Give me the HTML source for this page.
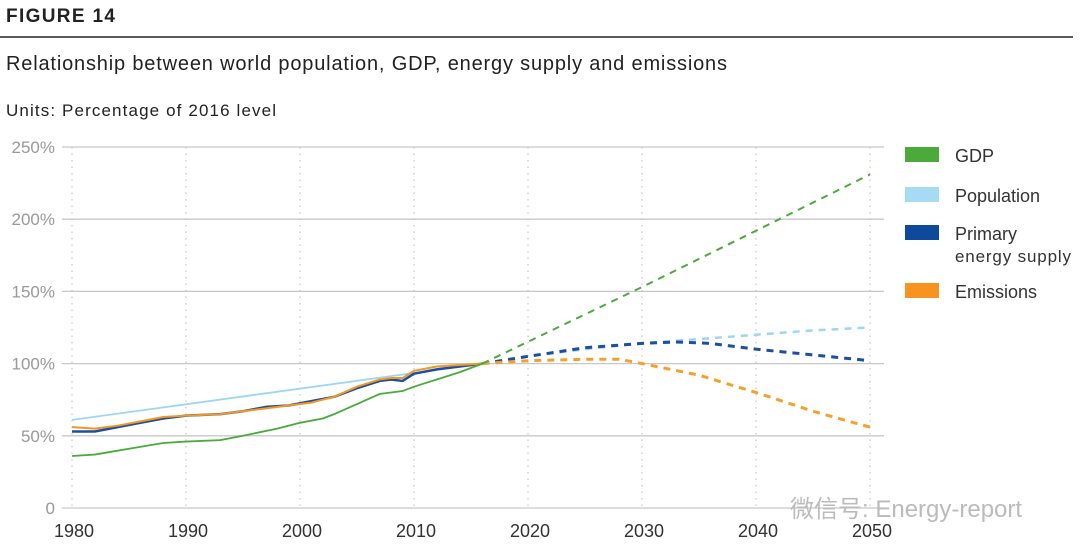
<!DOCTYPE html>
<html><head><meta charset="utf-8"><style>
body{margin:0;background:#fff;width:1080px;height:556px;overflow:hidden;font-family:"Liberation Sans","Noto Sans CJK SC",sans-serif}
</style></head><body>
<svg width="1080" height="556" style="position:absolute;left:0;top:0">
<text x="6" y="22" font-size="19" font-weight="bold" fill="#222" textLength="109">FIGURE 14</text>
<line x1="0" y1="37" x2="1073" y2="37" stroke="#222" stroke-width="1.5"/>
<text x="6" y="70" font-size="20" fill="#222" textLength="721">Relationship between world population, GDP, energy supply and emissions</text>
<text x="6" y="116" font-size="17" fill="#222" textLength="270">Units: Percentage of 2016 level</text>
<g id="grid"></g><g id="series"></g><g id="legend"></g>
<text x="790" y="517" font-size="24" fill="#bbb">微信号: Energy-report</text>
</svg>
<script>
const yTicks=[0,50,100,150,200,250];
const yTickLabels=["0","50%","100%","150%","200%","250%"];
const xTicks=[1980,1990,2000,2010,2020,2030,2040,2050];
const gdpYears=[1980,1982,1985,1988,1990,1993,1995,1998,2000,2002,2003,2005,2007,2008,2009,2010,2012,2014,2016];
const gdpVals=[36,37,41,45,46,47,50,55,59,62,65,72,79,80,81,84,89,94,100];
const gdpProjYears=[2016,2030,2040,2050];
const gdpProjVals=[100,153,192,231];
const popYears=[1980,2016];
const popVals=[61,100];
const popProjYears=[2016,2020,2025,2030,2035,2040,2045,2050];
const popProjVals=[100,105,110,114,117,120,123,125];
const enYears=[1980,1982,1984,1986,1988,1990,1993,1995,1997,1999,2001,2003,2005,2007,2008,2009,2010,2012,2014,2016];
const enVals=[53,53,56,59,62,64,65,67,70,71,74,77,83,88,89,88,93,96,98,100];
const enProjYears=[2016,2020,2025,2030,2033,2036,2040,2045,2050];
const enProjVals=[100,105,111,114,115,114,110,106,102];
const emYears=[1980,1982,1984,1986,1988,1990,1993,1995,1997,1999,2001,2003,2005,2007,2008,2009,2010,2012,2014,2016];
const emVals=[56,55,57,60,63,64,65,67,69,71,73,77,84,89,90,90,95,98,99,100];
const emProjYears=[2016,2020,2025,2028,2030,2035,2040,2045,2050];
const emProjVals=[100,102,103,103,100,92,80,67,56];
const NS="http://www.w3.org/2000/svg";
const X=y=>72+(y-1980)*11.4, Y=v=>508-v*1.444;
function mk(t,a,p){const e=document.createElementNS(NS,t);for(const k in a)e.setAttribute(k,a[k]);p.appendChild(e);return e;}
const grid=document.getElementById('grid');
yTicks.forEach((v,i)=>{
 const l=mk('line',{x1:62,x2:884,y1:Y(v),y2:Y(v),stroke:'#c8c8c8','stroke-width':1.3},grid);
 
 
 const t=mk('text',{x:55,y:Y(v)+6,'text-anchor':'end','font-size':17,fill:'#999'},grid);t.textContent=yTickLabels[i];
 
 
});
xTicks.forEach(v=>{
 const l=mk('line',{x1:X(v),x2:X(v),y1:Y(250),y2:Y(0),stroke:'#bbb','stroke-dasharray':'1.5 5'},grid);
 
 
 const t=mk('text',{x:X(v)+2,y:537,'text-anchor':'middle','font-size':18,fill:'#333'},grid);t.textContent=v;
 
 
});
const S=document.getElementById('series');
function line(xs,vs,col,dash,name,w){
 const p=mk('polyline',{points:xs.map((x,i)=>X(x)+','+Y(vs[i])).join(' '),fill:'none',stroke:col,'stroke-width':w||2,'stroke-linejoin':'round'},S);
 if(dash)p.setAttribute('stroke-dasharray','7 6');
 
 
}
line(popYears,popVals,'#9dd6f2',null,'population-line',1.8);
line(popProjYears,popProjVals,'#9dd6f2',1,'population-projection',2.5);
line(enYears,enVals,'#1a4fa3',null,'energy-line',2.5);
line(emYears,emVals,'#f5961e',null,'emissions-line',2);
line(gdpYears,gdpVals,'#4aaa3a',null,'gdp-line',1.8);
line(enProjYears,enProjVals,'#1a4fa3',1,'energy-projection',3);
line(emProjYears,emProjVals,'#f5a02a',1,'emissions-projection',3);
line(gdpProjYears,gdpProjVals,'#4aaa3a',1,'gdp-projection',2);
const L=document.getElementById('legend');
[['GDP','#4aaa3a',147,'legend-gdp'],['Population','#a6dbf4',187,'legend-population'],['Primary','#0d4a9c',225,'legend-energy'],['Emissions','#f7931e',283,'legend-emissions']].forEach(d=>{
 const r=mk('rect',{x:905,y:d[2],width:34,height:15,fill:d[1]},L);
 
 
 const t=mk('text',{x:955,y:d[2]+15,'font-size':18,fill:'#333'},L);t.textContent=d[0];
 
 
});
const t2=mk('text',{x:955,y:262,'font-size':17,fill:'#333',textLength:116},L);t2.textContent='energy supply';


</script>
</body></html>
